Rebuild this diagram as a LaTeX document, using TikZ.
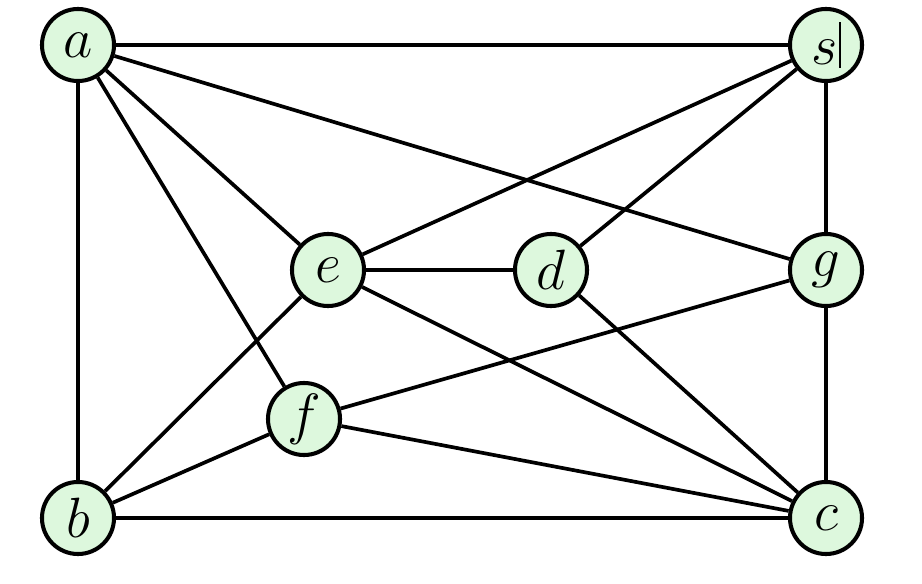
\documentclass[tikz,border=0pt]{standalone}
\usepackage{graphicx}
\usepackage{xcolor}
\usepackage{tikz}
\usetikzlibrary{positioning}
\definecolor{vertgreen}{RGB}{221,248,221}
\newcommand{\vlabel}[1]{\scalebox{1.3}{$#1$}}
\tikzstyle{vertex} = [circle, draw=black, line width=2.3pt, fill=vertgreen, minimum size=41pt, inner sep=0pt, font=\Huge]
\tikzstyle{edge} = [line width=2.1pt, draw=black]

\begin{document}
\begin{tikzpicture}[x=0.02cm, y=-0.02cm]
    \useasboundingbox (0,0) rectangle (922,584);
    % vertices
    \node[vertex] (a) at (78,45) {\vlabel{a}};
    \node[vertex] (s) at (826,45) {\vlabel{s}\kern1pt\rule[-0.2ex]{0.8pt}{1.05em}};
    \node[vertex] (e) at (328,270) {\vlabel{e}};
    \node[vertex] (d) at (551,270) {\vlabel{d}};
    \node[vertex] (g) at (826,270) {\vlabel{g}};
    \node[vertex] (f) at (304,419) {\vlabel{f}};
    \node[vertex] (b) at (78,518) {\vlabel{b}};
    \node[vertex] (c) at (826,518) {\vlabel{c}};
    % edges
    \foreach \u/\v in {a/s, a/b, a/e, a/f, a/g, s/e, s/d, s/g, e/d, e/b, e/c,
                       d/c, g/c, g/f, f/b, f/c, b/c}
        \draw[edge] (\u) -- (\v);
\end{tikzpicture}
\end{document}
